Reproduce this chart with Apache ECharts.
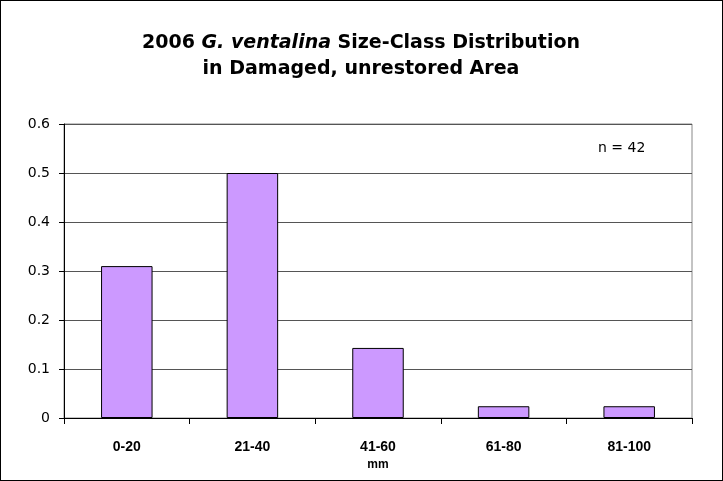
<!DOCTYPE html>
<html>
<head>
<meta charset="utf-8">
<script src="https://cdn.jsdelivr.net/npm/echarts@6/dist/echarts.min.js"></script>
<style>
  html, body { margin: 0; padding: 0; background: #fff; }
  #chart { width: 723px; height: 481px; box-sizing: border-box; border: 1px solid #000; }
</style>
</head>
<body>
<div id="chart"></div>
<script>
// size classes (mm) and share of mussels in each
var categories = ['0-20', '21-40', '41-60', '61-80', '81-100'];
var shares = [0.31, 0.5, 0.143, 0.024, 0.024];
var yTicks = [0, 0.1, 0.2, 0.3, 0.4, 0.5, 0.6];

var chart = echarts.init(document.getElementById('chart'));

var option = {
    animation: false,
    textStyle: { fontFamily: 'Liberation Sans, Arial, sans-serif' },
    title: {
        text: '{b|2006 }{i|G. ventalina}{b| Size-Class Distribution}\n{b|in Damaged, unrestored Area}',
        left: 355,
        textAlign: 'center',
        top: 24,
        textStyle: {
            rich: {
                b: { fontSize: 19, fontWeight: 'bold', color: '#000', lineHeight: 26, fontFamily: 'DejaVu Sans' },
                i: { fontSize: 19, fontWeight: 'bold', fontStyle: 'italic', color: '#000', lineHeight: 26, fontFamily: 'DejaVu Sans' }
            }
        }
    },
    graphic: [{
        type: 'text',
        left: 597,
        top: 140,
        style: { text: 'n = 42', fontSize: 14, fill: '#000', fontFamily: 'DejaVu Sans' }
    }],
    grid: {
        left: 63,
        right: 30,
        top: 123,
        bottom: 62,
        show: true,
        borderColor: '#888',
        borderWidth: 1
    },
    xAxis: {
        type: 'category',
        data: categories,
        name: 'mm',
        nameLocation: 'middle',
        nameGap: 37,
        nameTextStyle: { fontSize: 12, fontWeight: 'bold', color: '#000' },
        axisLine: { lineStyle: { color: '#000' } },
        axisTick: { show: true, length: 6, lineStyle: { color: '#000' } },
        axisLabel: { fontSize: 14, fontWeight: 'bold', color: '#000', margin: 22 }
    },
    yAxis: {
        type: 'value',
        min: 0,
        max: 0.6,
        interval: 0.1,
        axisLine: { show: true, lineStyle: { color: '#000' } },
        axisTick: { show: true, length: 5, lineStyle: { color: '#000' } },
        axisLabel: {
            fontSize: 14,
            fontFamily: 'DejaVu Sans',
            color: '#000',
            margin: 14,
            formatter: function (v) {
                var t = yTicks.find(function (k) { return Math.abs(k - v) < 1e-9; });
                return t === undefined ? '' : String(t);
            }
        },
        splitLine: { show: true, lineStyle: { color: '#555', width: 1 } }
    },
    series: [{
        type: 'bar',
        data: shares,
        barWidth: '41%',
        itemStyle: { color: '#CC99FF', borderColor: '#000', borderWidth: 1 }
    }]
};

chart.setOption(option);
</script>
</body>
</html>
